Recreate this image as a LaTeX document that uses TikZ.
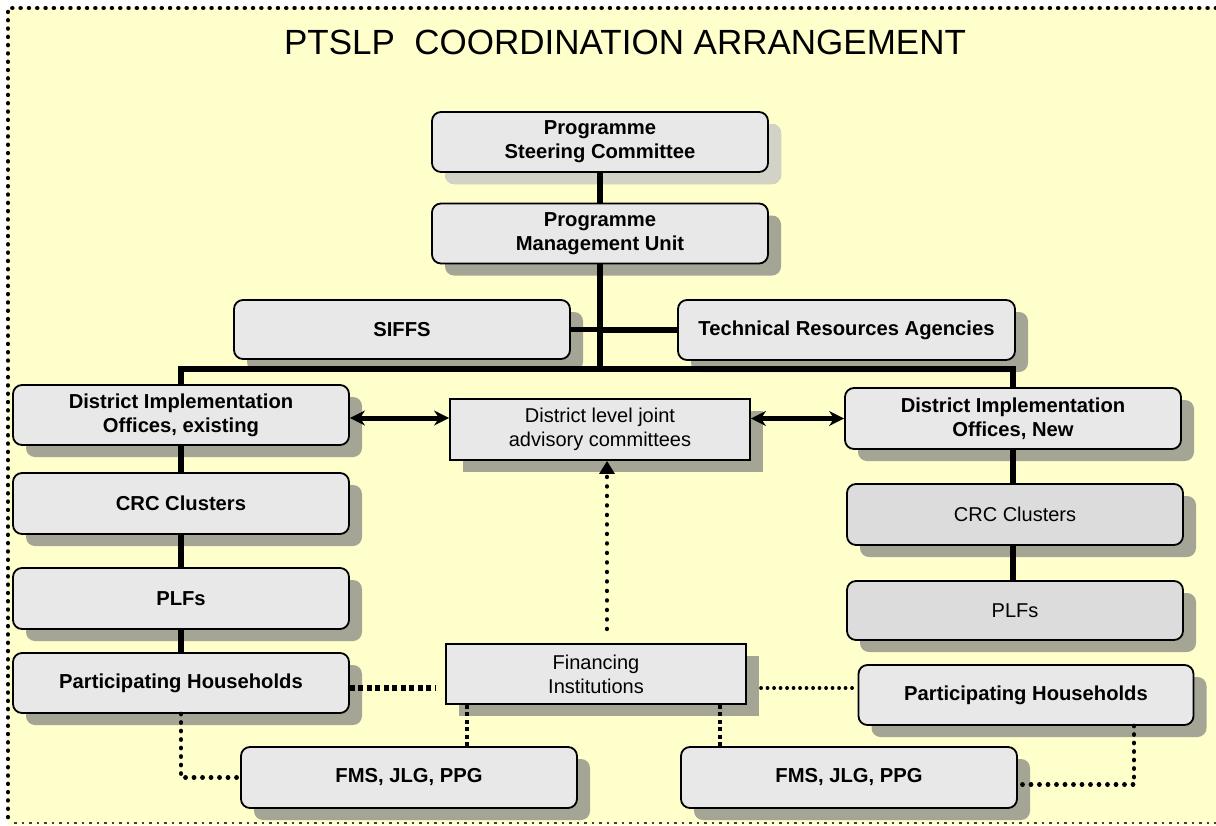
\documentclass[tikz,border=0pt]{standalone}
\usepackage{fontspec}
\setmainfont{Liberation Sans}
\usetikzlibrary{shadows,arrows.meta,calc}
\definecolor{bgyellow}{HTML}{FFFFCC}
\definecolor{boxfill}{HTML}{E8E8E8}
\definecolor{boxfilldark}{HTML}{DCDCDC}
\definecolor{shadowdark}{HTML}{A5A596}
\definecolor{shadowlight}{HTML}{D2D2C6}
\tikzset{
  obox/.style={draw=black, line width=1.8pt, rounded corners=9pt, fill=boxfill,
    minimum width=336pt, minimum height=60pt, align=center, inner sep=2pt,
    font=\fontsize{20.2}{24}\selectfont\bfseries,
    drop shadow={shadow xshift=13pt, shadow yshift=-12pt, fill=shadowdark, opacity=1}},
  lightshadow/.style={drop shadow={shadow xshift=13pt, shadow yshift=-12pt, fill=shadowlight, opacity=1}},
  rbox/.style={draw=black, line width=1.8pt, fill=boxfill,
    minimum width=300pt, minimum height=60pt, align=center, inner sep=2pt,
    font=\fontsize{20}{24}\selectfont,
    drop shadow={shadow xshift=13pt, shadow yshift=-12pt, fill=shadowdark, opacity=1}},
  plainbox/.style={obox, fill=boxfilldark, font=\fontsize{20}{24}\selectfont},
  solidlink/.style={draw=black, line width=5.5pt},
  dblarrow/.style={draw=black, line width=5pt, {Stealth[length=15pt,width=15pt]}-{Stealth[length=15pt,width=15pt]}},
  rounddots/.style={draw=black, line width=4.5pt, line cap=round, dash pattern=on 0.3pt off 8.2pt},
  thindots/.style={draw=black, line width=3.5pt, line cap=round, dash pattern=on 0.3pt off 6.2pt},
  squaredots/.style={draw=black, line width=5.5pt, dash pattern=on 5pt off 3.5pt},
  sqthin/.style={draw=black, line width=4.2pt, dash pattern=on 4pt off 3.5pt},
  dotarrow/.style={draw=black, line width=4.2pt, line cap=round, dash pattern=on 0.3pt off 9.2pt, -{Triangle[length=13pt,width=15pt]}},
}
\begin{document}
\begin{tikzpicture}[x=1pt,y=-1pt]
\useasboundingbox (0,0) rectangle (1216,825);
\fill[white] (0,0) rectangle (1216,825);
\fill[bgyellow] (8,8) rectangle (1216,825);
\draw[draw=black, line width=4.2pt, line cap=round, dash pattern=on 0.3pt off 8pt] (1216,8) -- (8,8) -- (8,823);
\draw[draw=black!75, line width=2pt, dash pattern=on 2.5pt off 5pt] (14,823) -- (1216,823);

\node (title) at (625,42) {\fontsize{35}{40}\selectfont PTSLP\ \ COORDINATION ARRANGEMENT};

\node[obox, lightshadow] (psc) at (600,142) {Programme\\Steering Committee};
\node[obox] (pmu) at (600,233.5) {Programme\\Management Unit};
\node[obox, minimum height=59pt] (siffs) at (402,329.5) {SIFFS};
\node[obox, minimum width=337pt] (tra) at (846.5,330) {Technical Resources Agencies};
\node[obox] (dioe) at (181,415) {District Implementation\\Offices, existing};
\node[rbox, minimum height=61pt] (dljac) at (600,429.5) {District level joint\\advisory committees};
\node[obox, minimum height=61pt] (dion) at (1013,418.5) {District Implementation\\Offices, New};
\node[obox, minimum height=61pt] (crcl) at (181,503.5) {CRC Clusters};
\node[plainbox, minimum height=61pt] (crcr) at (1015,514.5) {CRC Clusters};
\node[obox, minimum height=61pt] (plfl) at (181,598.5) {PLFs};
\node[plainbox, minimum height=59pt] (plfr) at (1015,610.5) {PLFs};
\node[obox] (phl) at (181,683) {Participating Households};
\node[rbox] (fin) at (596,674) {Financing\\Institutions};
\node[obox, minimum width=335pt] (phr) at (1026,695) {Participating Households};
\node[obox, minimum height=61pt] (fmsl) at (409,777.5) {FMS, JLG, PPG};
\node[obox, minimum height=61pt] (fmsr) at (849,777.5) {FMS, JLG, PPG};

% hierarchy lines
\coordinate (bus) at (600,369);
\draw[solidlink] (psc.south) -- (pmu.north);
\draw[solidlink] (pmu.south) -- (bus);
\draw[solidlink] (siffs.east) -- (siffs.east -| bus);
\draw[solidlink] (tra.west) -- (tra.west -| bus);
\draw[solidlink] (dioe.north) -- (dioe.north |- bus) -| (dion.north);
\draw[solidlink] (dioe.south) -- (dioe.south |- crcl.north);
\draw[solidlink] (crcl.south) -- (crcl.south |- plfl.north);
\draw[solidlink] (plfl.south) -- (plfl.south |- phl.north);
\draw[solidlink] (dion.south) -- (dion.south |- crcr.north);
\draw[solidlink] (dion.south |- crcr.south) -- (dion.south |- plfr.north);

% double arrows
\draw[dblarrow] ([yshift=-3pt]dioe.east) -- ([yshift=-3pt]dioe.east -| dljac.west);
\draw[dblarrow] (dion.west -| dljac.east) -- (dion.west);

% dotted links
\draw[dotarrow] ([xshift=11pt,yshift=14pt]fin.north) -- ([xshift=11pt]fin.north |- dljac.south);
\draw[squaredots, shorten >=9pt] ([yshift=-5pt]phl.east) -- ([yshift=-5pt]phl.east -| fin.west);
\draw[thindots, shorten <=14pt, shorten >=4pt] ([yshift=7pt]phr.west -| fin.east) -- ([yshift=7pt]phr.west);
\draw[sqthin] ([xshift=-129pt]fin.south) -- ([xshift=-129pt]fin.south |- fmsl.north);
\draw[sqthin] ([xshift=124pt]fin.south) -- ([xshift=124pt]fin.south |- fmsr.north);
\draw[rounddots] (phl.south) |- (fmsl.west);
\draw[rounddots] ([xshift=108pt]phr.south) |- ([yshift=-7pt]fmsr.east);
\end{tikzpicture}
\end{document}
